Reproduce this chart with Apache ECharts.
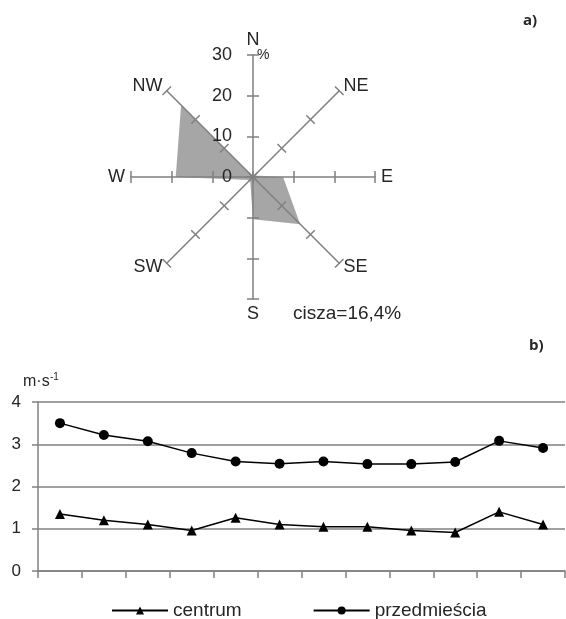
<!DOCTYPE html>
<html><head><meta charset="utf-8">
<script src="https://cdn.jsdelivr.net/npm/echarts@6/dist/echarts.min.js"></script>
<style>html,body{margin:0;padding:0;background:#fff}#c{width:566px;height:619px}</style>
</head><body><div id="c"></div>
<script>
// ---- a) wind rose (frequency %, counter-clockwise from N) ----
const directions = ['N', 'NW', 'W', 'SW', 'S', 'SE', 'E', 'NE'];
const windFreq = [0, 25, 19, 1, 10.4, 16.4, 7.4, 0.5];
const roseTicks = [0, 10, 20, 30];
const calmText = 'cisza=16,4%';

// ---- b) monthly mean wind speed (m/s) ----
const months = ['I', 'II', 'III', 'IV', 'V', 'VI', 'VII', 'VIII', 'IX', 'X', 'XI', 'XII'];
const centrum = [1.35, 1.2, 1.1, 0.96, 1.26, 1.1, 1.05, 1.05, 0.96, 0.91, 1.4, 1.1];
const przedmiescia = [3.5, 3.22, 3.07, 2.79, 2.59, 2.54, 2.59, 2.53, 2.53, 2.58, 3.08, 2.91];
const speedTicks = [0, 1, 2, 3, 4];

const FONT = '"Liberation Sans", Arial, sans-serif';
const GREY = '#808080';
const TXT = '#262626';
const roseMax = roseTicks[roseTicks.length - 1];

const chart = echarts.init(document.getElementById('c'));

const baseRadar = {
  center: [253, 177],
  radius: 122,
  startAngle: 90,
  splitNumber: roseTicks.length - 1,
  shape: 'polygon',
  z: 5,
  splitLine: { show: false },
  splitArea: { show: false }
};

const option = {
  animation: false,
  backgroundColor: '#fff',
  textStyle: { fontFamily: FONT },
  radar: [
    Object.assign({}, baseRadar, {
      indicator: directions.map((d, i) => ({ name: d, min: 0, max: roseMax, axisLabel: { show: i === 0 } })),
      axisName: { color: TXT, fontSize: 18, fontFamily: FONT },
      nameGap: 6,
      axisLine: { show: true, lineStyle: { color: GREY, width: 1.5 } },
      axisTick: { show: true, length: 6, lineStyle: { color: GREY, width: 1.5 } },
      axisLabel: { show: false, fontSize: 18, color: TXT, fontFamily: FONT, margin: 21 }
    }),
    Object.assign({}, baseRadar, {
      indicator: directions.map(d => ({ name: d, min: 0, max: roseMax })),
      axisName: { show: false },
      axisLine: { show: false },
      axisTick: { show: true, length: -6, lineStyle: { color: GREY, width: 1.5 } },
      axisLabel: { show: false }
    })
  ],
  grid: { left: 38, right: 1, top: 402, bottom: 48 },
  xAxis: {
    type: 'category', data: months, boundaryGap: true,
    axisLine: { lineStyle: { color: GREY, width: 1.5 } },
    axisTick: { show: true, length: 7, lineStyle: { color: GREY, width: 1.5 } },
    axisLabel: { show: false }
  },
  yAxis: {
    type: 'value', min: speedTicks[0], max: speedTicks[speedTicks.length - 1], interval: 1,
    axisLine: { show: true, lineStyle: { color: GREY, width: 1.5 } },
    axisTick: { show: true, length: 6, lineStyle: { color: GREY, width: 1.5 } },
    axisLabel: { fontSize: 17, color: TXT, fontFamily: FONT, margin: 17 },
    splitLine: { lineStyle: { color: GREY, width: 1.5 } }
  },
  legend: {
    left: 106, top: 596, itemWidth: 56, itemHeight: 10, itemGap: 71,
    textStyle: { fontSize: 19, color: TXT, fontFamily: FONT },
    data: ['centrum', 'przedmieścia']
  },
  series: [
    {
      type: 'radar', radarIndex: 0, symbol: 'none', z: 1,
      lineStyle: { width: 0 },
      areaStyle: { color: '#a6a6a6', opacity: 1 },
      data: [{ value: windFreq }]
    },
    {
      name: 'centrum', type: 'line', data: centrum,
      symbol: 'triangle', symbolSize: 10,
      lineStyle: { color: '#000', width: 1.5 }, itemStyle: { color: '#000' }
    },
    {
      name: 'przedmieścia', type: 'line', data: przedmiescia,
      symbol: 'circle', symbolSize: 10,
      lineStyle: { color: '#000', width: 1.5 }, itemStyle: { color: '#000' }
    }
  ],
  graphic: [
    { type: 'text', left: 523, top: 13, style: { text: 'a)', font: 'bold 15px "Open Sans", sans-serif', fill: TXT } },
    { type: 'text', left: 529, top: 338, style: { text: 'b)', font: 'bold 15px "Open Sans", sans-serif', fill: TXT } },
    { type: 'text', left: 293, top: 304, style: { text: calmText, font: '19px ' + FONT, fill: TXT } },
    { type: 'text', left: 257, top: 48, style: { text: '%', font: '14px ' + FONT, fill: TXT } },
    { type: 'text', left: 23, top: 374, style: { text: 'm·s', font: '16px ' + FONT, fill: TXT } },
    { type: 'text', left: 50, top: 372, style: { text: '-1', font: '10px ' + FONT, fill: TXT } }
  ]
};
chart.setOption(option);
</script></body></html>
